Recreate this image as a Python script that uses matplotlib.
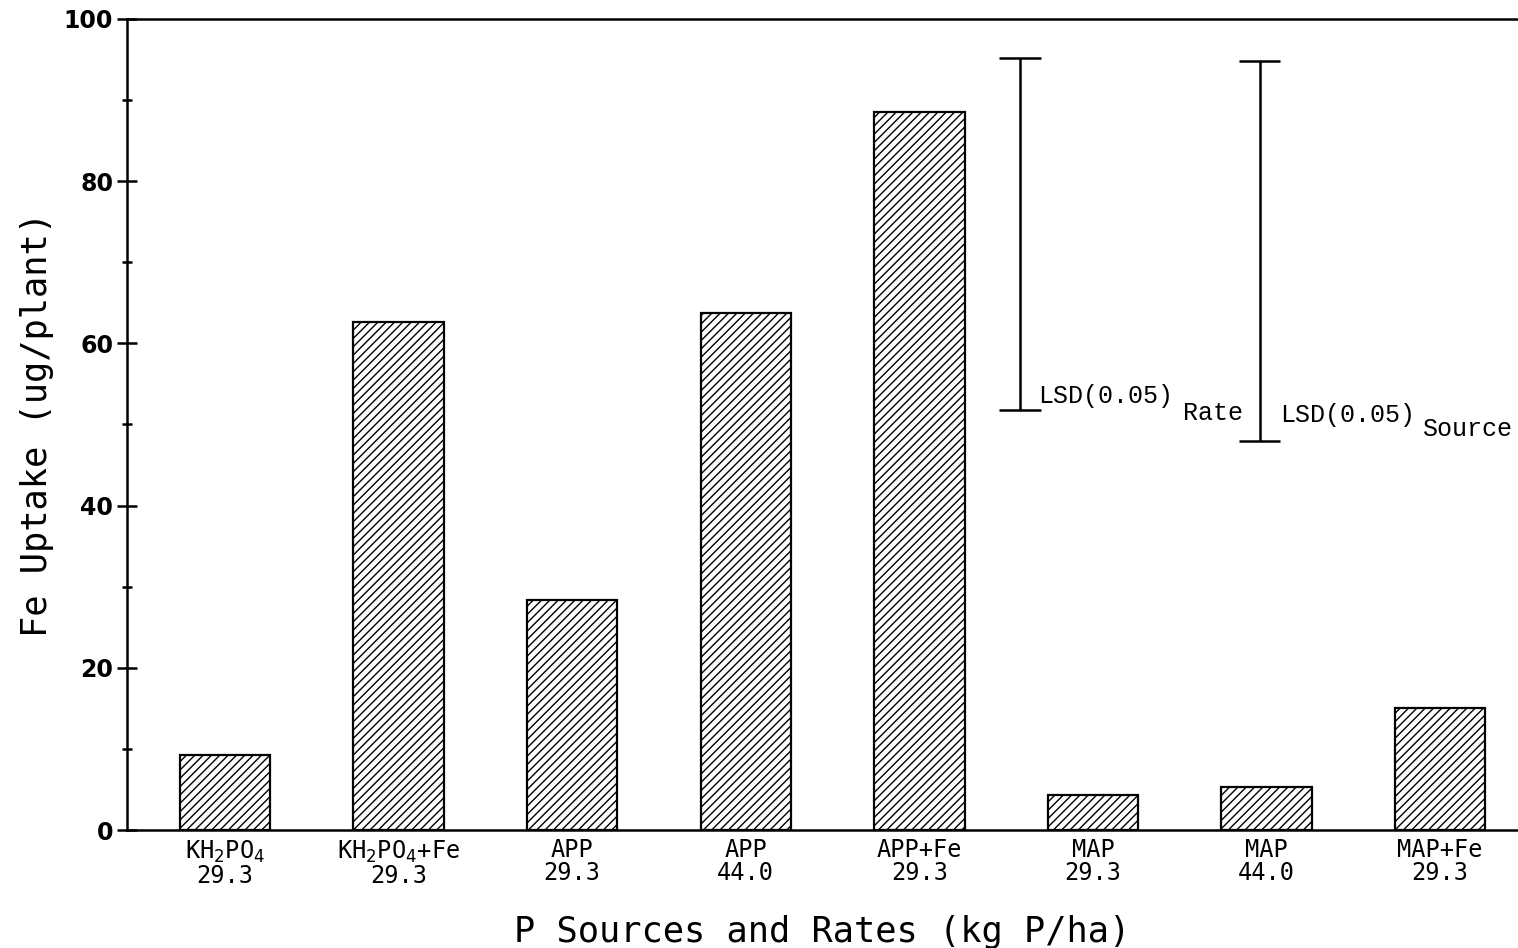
import numpy as np
import matplotlib
matplotlib.use("Agg")
import matplotlib.pyplot as plt
from matplotlib.ticker import MultipleLocator

# Fe uptake by P source and rate
sources = [r"KH$_2$PO$_4$", r"KH$_2$PO$_4$+Fe", "APP", "APP", "APP+Fe", "MAP", "MAP", "MAP+Fe"]
rates = ["29.3", "29.3", "29.3", "44.0", "29.3", "29.3", "44.0", "29.3"]
fe_uptake = [9.2, 62.7, 28.4, 63.8, 88.5, 4.3, 5.3, 15.1]

# LSD bars: (position, top, length)
lsd_names = ["Rate", "Source"]
lsd_pos = [4.58, 5.96]
lsd_top = [95.2, 94.8]
lsd_len = [43.4, 46.8]

plt.rcParams['font.family'] = ['DejaVu Sans Mono', 'DejaVu Sans']
plt.rcParams['hatch.linewidth'] = 1.0

fig = plt.figure(figsize=(15.18, 9.48), dpi=100)
ax = fig.add_axes([127 / 1518, 1 - 830 / 948, 1 - 127 / 1518, (830 - 19) / 948])

x = np.arange(len(fe_uptake))
ax.bar(x, fe_uptake, width=0.52, color='white', edgecolor='black',
       linewidth=1.6, hatch='////', zorder=2)

# LSD markers, label offsets (points) differ slightly between the two
text_off = [(13, 5, 117, -7), (14.5, 13.5, 117, 3.5)]
for name, xp, top, ln, off in zip(lsd_names, lsd_pos, lsd_top, lsd_len, text_off):
    bot = top - ln
    ax.vlines(xp, bot, top, color='black', linewidth=1.8)
    ax.hlines([top, bot], xp - 0.12, xp + 0.12, color='black', linewidth=1.8)
    ax.annotate("LSD(0.05)", xy=(xp, bot), xytext=(off[0], off[1]), textcoords='offset points',
                fontsize=18, ha='left', va='baseline', family='Liberation Mono')
    ax.annotate(name, xy=(xp, bot), xytext=(off[2], off[3]), textcoords='offset points',
                fontsize=18, ha='left', va='baseline', family='Liberation Mono')

ax.set_xlim(-0.564, 7.448)
ax.set_ylim(0, 100)
ax.set_xticks(x)
ax.set_xticklabels([f"{s}\n{r}" for s, r in zip(sources, rates)],
                   fontsize=17, linespacing=0.95)
ax.tick_params(axis='x', length=0, pad=6)

ax.yaxis.set_major_locator(MultipleLocator(20))
ax.yaxis.set_minor_locator(MultipleLocator(10))
ax.tick_params(axis='y', which='major', direction='inout', length=14, width=1.8,
               labelsize=17, pad=3)
ax.tick_params(axis='y', which='minor', direction='inout', length=7, width=1.8)
for lbl in ax.get_yticklabels():
    lbl.set_family('DejaVu Sans')
    lbl.set_fontweight('bold')

ax.spines['right'].set_visible(False)
for s in ['left', 'bottom', 'top']:
    ax.spines[s].set_linewidth(1.8)

ax.set_xlabel("P Sources and Rates (kg P/ha)", fontsize=25.5, labelpad=20)
ax.set_ylabel("Fe Uptake (ug/plant)", fontsize=25.5, labelpad=7)

fig.savefig("out.png", dpi=100)
